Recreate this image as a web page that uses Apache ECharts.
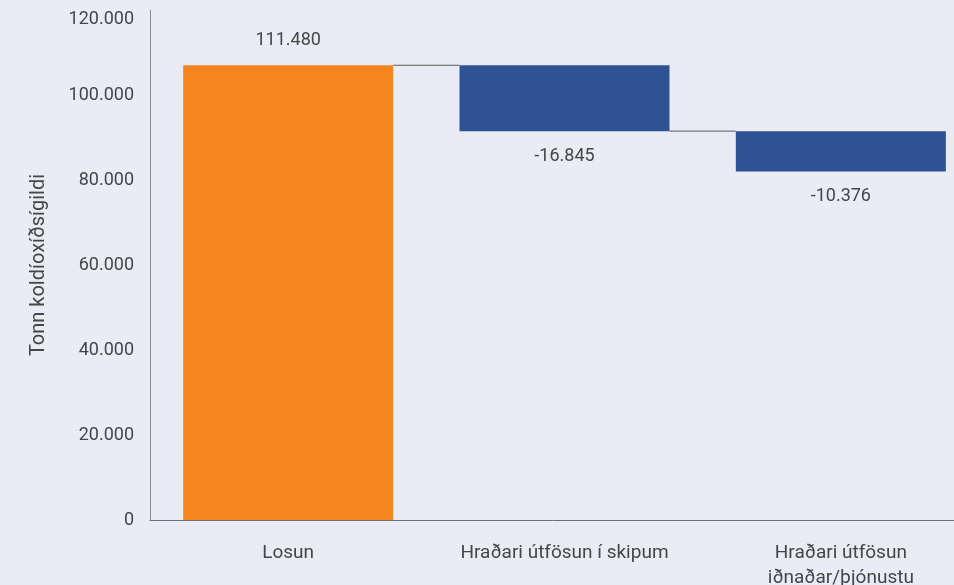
<!DOCTYPE html>
<html>
<head>
<meta charset="utf-8">
<script src="https://cdn.jsdelivr.net/npm/echarts@6/dist/echarts.min.js"></script>
<style>
    html, body { margin: 0; padding: 0; background: #e9ecf4; }
    #chart { width: 954px; height: 585px; }
</style>
</head>
<body>
<div id="chart"></div>
<script>
    // flokkar og gildi
    var categories = ['Losun', 'Hraðari útfösun í skipum', 'Hraðari útfösun\niðnaðar/þjónustu'];
    // hæð súlna eins og þær eru teiknaðar á myndinni
    var startValue = 107000;
    var changes = [-15500, -9500];
    // gildin sem eru prentuð við súlurnar
    var printedLabels = ['111.480', '-16.845', '-10.376'];
    var yTicks = [0, 20000, 40000, 60000, 80000, 100000, 120000];

    var orange = '#f5861f';
    var blue = '#2f5294';
    var textColor = '#464646';

    // reikna grunn (ósýnilegan) og sýnilegan hluta
    var running = [startValue];
    changes.forEach(function (c, i) { running.push(running[i] + c); });
    var baseData = [0];
    var visibleData = [startValue];
    changes.forEach(function (c, i) {
        baseData.push(Math.min(running[i], running[i + 1]));
        visibleData.push(Math.abs(c));
    });

    var barItems = visibleData.map(function (v, i) {
        return {
            value: v,
            itemStyle: { color: i === 0 ? orange : blue },
            label: {
                show: true,
                position: changes[i - 1] < 0 ? 'bottom' : 'top',
                distance: 16,
                formatter: printedLabels[i]
            }
        };
    });

    // tengilínur milli súlna
    var connectorData = running.slice(0, running.length - 1).map(function (v, i) { return [i, v]; });

    function fmt(v) {
        return String(v).replace(/\B(?=(\d{3})+(?!\d))/g, '.');
    }

    var chart = echarts.init(document.getElementById('chart'));
    chart.setOption({
        backgroundColor: '#e9ecf4',
        textStyle: { fontFamily: 'Roboto, sans-serif' },
        grid: { left: 150, right: -25, top: 10, bottom: 65, containLabel: false, outerBoundsMode: 'none' },
        xAxis: {
            type: 'category',
            data: categories,
            axisLine: { lineStyle: { color: '#6f6f6f', width: 1 } },
            axisTick: { show: false },
            axisLabel: { color: textColor, fontSize: 19, margin: 21, lineHeight: 25, interval: 0 }
        },
        yAxis: {
            type: 'value',
            min: 0,
            max: yTicks[yTicks.length - 1],
            interval: 20000,
            name: 'Tonn koldíoxíðsígildi',
            nameLocation: 'middle',
            nameGap: 101,
            nameTextStyle: { color: textColor, fontSize: 20 },
            axisLine: { show: true, lineStyle: { color: '#8c8c8c', width: 1 } },
            axisTick: { show: false },
            splitLine: { show: false },
            axisLabel: {
                color: textColor, fontSize: 18, margin: 16, formatter: fmt,
                verticalAlignMaxLabel: 'top'
            }
        },
        series: [
            {
                type: 'custom',
                z: 1,
                data: connectorData,
                renderItem: function (params, api) {
                    var p = api.coord([api.value(0), api.value(1)]);
                    var band = api.size([1, 0])[0];
                    var half = band * 0.76 / 2;
                    return {
                        type: 'line',
                        shape: { x1: p[0] + half, y1: p[1], x2: p[0] + band - half, y2: p[1] },
                        style: { stroke: '#5a5a5a', lineWidth: 1 }
                    };
                }
            },
            {
                type: 'bar',
                stack: 'foss',
                z: 2,
                barWidth: '76%',
                itemStyle: { color: 'transparent' },
                silent: true,
                data: baseData
            },
            {
                type: 'bar',
                stack: 'foss',
                z: 2,
                barWidth: '76%',
                label: { color: textColor, fontSize: 18 },
                data: barItems
            }
        ]
    });
</script>
</body>
</html>
